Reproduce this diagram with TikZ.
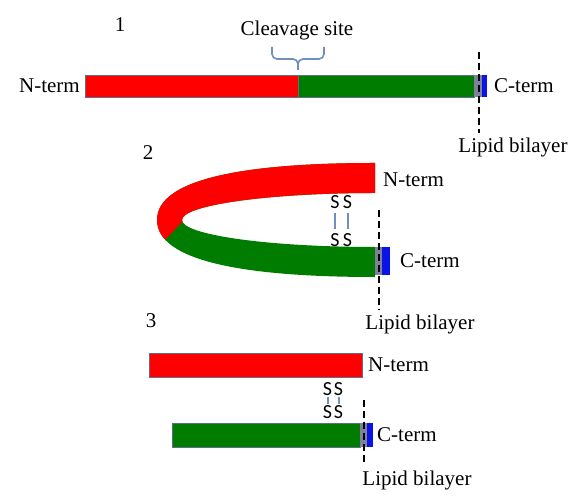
\documentclass[tikz,border=0pt]{standalone}
\usepackage{fontspec}
\setmainfont{Liberation Serif}
\newfontfamily\sulfurfont{Carlito}
\usepackage{tikz}
\usetikzlibrary{positioning,calc}
\definecolor{DEFINE_RED}{HTML}{FF0000}
\definecolor{DEFINE_GREEN}{HTML}{007D00}
\definecolor{DEFINE_TM}{HTML}{80809C}
\definecolor{DEFINE_CT}{HTML}{0A14E6}
\definecolor{DEFINE_EDGE}{HTML}{5C6F8A}
\definecolor{DEFINE_BOND}{HTML}{6E8FC0}
\tikzstyle{RED_COLOR}=[fill=DEFINE_RED]
\tikzstyle{GREEN_COLOR}=[fill=DEFINE_GREEN]
\tikzstyle{TM_COLOR}=[fill=DEFINE_TM]
\tikzstyle{CT_COLOR}=[fill=DEFINE_CT]
\tikzstyle{chain_bar}=[rectangle, draw=DEFINE_EDGE, line width=0.6pt, inner sep=0pt, outer sep=0pt, minimum height=22pt]
\tikzstyle{N_BAR}=[chain_bar, RED_COLOR]
\tikzstyle{C_BAR}=[chain_bar, GREEN_COLOR]
\tikzstyle{TM_BAR}=[chain_bar, TM_COLOR, draw=none]
\tikzstyle{CT_BAR}=[chain_bar, CT_COLOR, draw=none]
\tikzstyle{lbl}=[inner sep=0pt, font=\fontsize{21}{25}\selectfont]
\tikzstyle{num}=[lbl]
\tikzstyle{sulfur}=[inner sep=0pt, font=\sulfurfont\fontsize{20}{24}\selectfont]
\tikzstyle{bond}=[draw=DEFINE_BOND, line width=2pt]
\tikzstyle{membrane}=[draw=black, line width=2pt, dash pattern=on 7pt off 4pt]
\tikzstyle{brace_line}=[draw=DEFINE_BOND, line width=1.6pt, rounded corners=5pt]
% folded chain of panel 2
\newcommand{\foldpath}{(375,339) .. controls (240,339) and (157,322) .. (157,282)
      .. controls (157,242) and (240,225) .. (375,225) -- (375,255)
      arc[start angle=270, end angle=90, x radius=193pt, y radius=27pt] -- cycle}

\begin{document}
\begin{tikzpicture}[x=1pt, y=1pt]
      \path[use as bounding box, fill=white] (0,0) rectangle (578,502);

      %%%%%%%%%%%%%%%%%%%%%%%%%%%%%%%%%%%%%%%%%%%%%%%%%
      % 1: UNCUT CHAIN
      %%%%%%%%%%%%%%%%%%%%%%%%%%%%%%%%%%%%%%%%%%%%%%%%%
      \node[num] (one) at (120,477) {1};

      \node[N_BAR, minimum width=213pt, anchor=south west] (N1) at (85,405) {};
      \node[C_BAR, minimum width=176pt, right=0pt of N1] (C1) {};
      \node[TM_BAR, minimum width=8pt, right=0pt of C1] (TM1) {};
      \node[CT_BAR, minimum width=5pt, right=0pt of TM1] (CT1) {};

      \node[lbl, left=5pt of N1]  (Nterm1) {N-term};
      \node[lbl, right=7pt of CT1] (Cterm1) {C-term};

      % cleavage brace
      \node[lbl] (cleave) at (297,472) {Cleavage site};
      \coordinate (site) at (N1.north east);
      \draw[brace_line] ($(site)+(-26,28)$) -- ($(site)+(-26,16)$) -- ($(site)+(0,16)$) -- ($(site)+(0,5)$);
      \draw[brace_line] ($(site)+(26,28)$) -- ($(site)+(26,16)$) -- ($(site)+(0,16)$) -- ($(site)+(0,5)$);

      \coordinate (M1a) at (479,450);
      \coordinate (M1b) at (479,369);
      \draw[membrane] (M1a) -- (M1b);
      \node[lbl] (LB1) at (513,355) {Lipid bilayer};

      %%%%%%%%%%%%%%%%%%%%%%%%%%%%%%%%%%%%%%%%%%%%%%%%%
      % 2: FOLDED CHAIN
      %%%%%%%%%%%%%%%%%%%%%%%%%%%%%%%%%%%%%%%%%%%%%%%%%
      \node[num] (two) at (148,349) {2};

      \fill[GREEN_COLOR] \foldpath;
      \begin{scope}
            \clip (400,282) -- (182,280) -- (140,236) -- (140,360) -- (400,360) -- cycle;
            \fill[RED_COLOR] \foldpath;
      \end{scope}

      \node[TM_BAR, minimum width=7pt, minimum height=28pt, anchor=south west] (TM2) at (375,227) {};
      \node[CT_BAR, minimum width=8pt, minimum height=28pt, right=0pt of TM2] (CT2) {};

      \node[lbl, anchor=west] (Nterm2) at (383,322) {N-term};
      \node[lbl, right=10pt of CT2] (Cterm2) {C-term};

      % disulfide bonds
      \node[sulfur] (S2a) at (335,300) {S};
      \node[sulfur] (S2b) at (347.5,300) {S};
      \node[sulfur] (S2c) at (335,262) {S};
      \node[sulfur] (S2d) at (347.5,262) {S};
      \draw[bond, shorten <=4pt, shorten >=4pt] (S2a) -- (S2c);
      \draw[bond, shorten <=4pt, shorten >=4pt] (S2b) -- (S2d);

      \coordinate (M2a) at (379,292);
      \coordinate (M2b) at (379,192);
      \draw[membrane] (M2a) -- (M2b);
      \node[lbl] (LB2) at (420,178) {Lipid bilayer};

      %%%%%%%%%%%%%%%%%%%%%%%%%%%%%%%%%%%%%%%%%%%%%%%%%
      % 3: CLEAVED CHAINS
      %%%%%%%%%%%%%%%%%%%%%%%%%%%%%%%%%%%%%%%%%%%%%%%%%
      \node[num] (three) at (151,181) {3};

      \node[N_BAR, minimum width=213pt, minimum height=24pt, anchor=south west] (N3) at (149,125) {};
      \node[lbl, right=6pt of N3] (Nterm3) {N-term};

      \node[C_BAR, minimum width=188pt, minimum height=24pt, anchor=south west] (C3) at (172,55) {};
      \node[TM_BAR, minimum width=7pt, minimum height=24pt, right=0pt of C3] (TM3) {};
      \node[CT_BAR, minimum width=6pt, minimum height=24pt, right=0pt of TM3] (CT3) {};
      \node[lbl, right=4pt of CT3] (Cterm3) {C-term};

      \node[sulfur] (S3a) at (327.5,113) {S};
      \node[sulfur] (S3b) at (338.5,113) {S};
      \node[sulfur] (S3c) at (327.5,90) {S};
      \node[sulfur] (S3d) at (338.5,90) {S};
      \draw[bond, shorten <=1pt, shorten >=1pt] (S3a) -- (S3c);
      \draw[bond, shorten <=1pt, shorten >=1pt] (S3b) -- (S3d);

      \coordinate (M3a) at (364,102);
      \coordinate (M3b) at (364,37);
      \draw[membrane] (M3a) -- (M3b);
      \node[lbl] (LB3) at (417,22) {Lipid bilayer};

\end{tikzpicture}
\end{document}
